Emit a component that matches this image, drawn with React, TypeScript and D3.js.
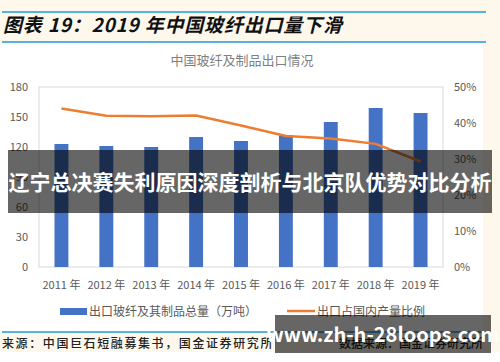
import React, { useEffect, useRef } from "react";
import * as d3 from "d3";

const years = ["2011年", "2012年", "2013年", "2014年", "2015年", "2016年", "2017年", "2018年", "2019年"];
const exportVolume = [123, 121, 120, 130, 126, 132, 145, 159, 154];
const exportRatio = [44.0, 42.0, 41.9, 42.1, 39.3, 36.4, 35.7, 34.2, 29.3];
const leftTicks = [0, 30, 60, 90, 120, 150, 180];
const rightTicks = [0, 10, 20, 30, 40, 50];

const FONT = "'Noto Sans CJK SC', 'Noto Sans', sans-serif";

export default function App() {
	const ref = useRef<SVGSVGElement>(null);

	useEffect(() => {
		const svg = d3.select(ref.current);
		svg.selectAll("*").remove();

		const W = 500, H = 362;
		const plot = { left: 39, right: 443, top: 87, bottom: 267 };

		// background
		svg.append("rect").attr("width", W).attr("height", H).attr("fill", "#fff");
		svg.append("rect").attr("width", W).attr("height", 43).attr("fill", "#fef8ec");
		svg.append("rect").attr("x", 483).attr("width", 17).attr("height", 352).attr("fill", "#fef8ec");
		svg.append("rect").attr("y", 331).attr("width", W).attr("height", 21).attr("fill", "#fef8ec");

		// header
		svg.append("line").attr("x1", 2).attr("x2", 486).attr("y1", 12).attr("y2", 12)
			.attr("stroke", "#1e9be0").attr("stroke-width", 1.5);
		svg.append("line").attr("x1", 2).attr("x2", 486).attr("y1", 42).attr("y2", 42)
			.attr("stroke", "#1e9be0").attr("stroke-width", 1.5);
		svg.append("text").attr("x", 3).attr("y", 32)
			.attr("font-family", FONT).attr("font-size", 19).attr("font-weight", "bold")
			.attr("font-style", "italic").attr("fill", "#111").attr("letter-spacing", 0.8)
			.text("图表 19：2019 年中国玻纤出口量下滑");

		svg.append("text").attr("x", 242).attr("y", 65).attr("text-anchor", "middle")
			.attr("font-family", FONT).attr("font-size", 13).attr("fill", "#7f7f7f")
			.text("中国玻纤及制品出口情况");

		const x = d3.scaleBand().domain(years).range([plot.left, plot.right]).paddingInner(0.69).paddingOuter(0.345);
		const y = d3.scaleLinear().domain([0, 180]).range([plot.bottom, plot.top]);
		const y2 = d3.scaleLinear().domain([0, 50]).range([plot.bottom, plot.top]);

		svg.append("rect").attr("x", plot.left).attr("y", plot.top)
			.attr("width", plot.right - plot.left).attr("height", plot.bottom - plot.top)
			.attr("fill", "none").attr("stroke", "#d9d9d9");

		// axes
		const left = svg.append("g").attr("transform", "translate(" + (plot.left - 11) + ",0)")
			.call(d3.axisLeft(y).tickValues(leftTicks).tickSize(0).tickPadding(0));
		const right = svg.append("g").attr("transform", "translate(" + (plot.right + 11) + ",0)")
			.call(d3.axisRight(y2).tickValues(rightTicks).tickSize(0).tickPadding(0).tickFormat(d => d + "%"));
		const bottom = svg.append("g").attr("transform", "translate(0," + plot.bottom + ")")
			.call(d3.axisBottom(x).tickSize(0).tickPadding(14).tickFormat(d => d.replace("年", " 年")));
		[left, right, bottom].forEach(g => {
			g.select(".domain").remove();
			g.selectAll("text").attr("font-family", FONT).attr("font-size", 11).attr("fill", "#595959");
		});

		// bars
		svg.append("g").selectAll("rect").data(exportVolume).enter().append("rect")
			.attr("x", (d, i) => x(years[i])!)
			.attr("y", d => y(d))
			.attr("width", x.bandwidth())
			.attr("height", d => plot.bottom - y(d))
			.attr("fill", "#4472c4");

		// ratio line
		const line = d3.line<number>()
			.x((d, i) => x(years[i])! + x.bandwidth() / 2)
			.y(d => y2(d));
		svg.append("path").datum(exportRatio).attr("d", line)
			.attr("fill", "none").attr("stroke", "#ed7d31").attr("stroke-width", 2.5)
			.attr("stroke-linejoin", "round");

		// legend
		svg.append("rect").attr("x", 60).attr("y", 308).attr("width", 27).attr("height", 7).attr("fill", "#4472c4");
		svg.append("text").attr("x", 89).attr("y", 315.5)
			.attr("font-family", FONT).attr("font-size", 12).attr("fill", "#595959")
			.text("出口玻纤及其制品总量（万吨）");
		svg.append("line").attr("x1", 287).attr("x2", 315).attr("y1", 311).attr("y2", 311)
			.attr("stroke", "#ed7d31").attr("stroke-width", 2.5);
		svg.append("text").attr("x", 317).attr("y", 315.5)
			.attr("font-family", FONT).attr("font-size", 12).attr("fill", "#595959")
			.text("出口占国内产量比例");

		// footer
		svg.append("line").attr("x1", 2).attr("x2", 486).attr("y1", 332).attr("y2", 332)
			.attr("stroke", "#1e9be0").attr("stroke-width", 1.5);
		svg.append("text").attr("x", 2).attr("y", 348)
			.attr("font-family", FONT).attr("font-size", 12).attr("font-weight", 500).attr("fill", "#222")
			.attr("letter-spacing", 1.6)
			.text("来源：中国巨石短融募集书，国金证券研究所");
		svg.append("text").attr("x", 483).attr("y", 348).attr("text-anchor", "end")
			.attr("font-family", FONT).attr("font-size", 12).attr("font-weight", 500).attr("fill", "#222")
			.text("数据来源：国金证券研究所");

		// overlays
		svg.append("rect").attr("x", 8).attr("y", 150).attr("width", 484).attr("height", 63)
			.attr("fill", "#000").attr("fill-opacity", 0.6);
		svg.append("text").attr("x", 250).attr("y", 190).attr("text-anchor", "middle")
			.attr("font-family", FONT).attr("font-size", 21).attr("font-weight", "bold").attr("fill", "#fff")
			.text("辽宁总决赛失利原因深度剖析与北京队优势对比分析");
		svg.append("rect").attr("x", 275).attr("y", 315).attr("width", 216).attr("height", 38)
			.attr("fill", "#000").attr("fill-opacity", 0.6);
		svg.append("text").attr("x", 383).attr("y", 342).attr("text-anchor", "middle")
			.attr("font-family", FONT).attr("font-size", 20).attr("font-weight", "bold").attr("fill", "#fff")
			.text("www.zh-h-28loops.com");
	}, []);

	return <svg ref={ref} width={500} height={362} style={{ position: "absolute", left: 0, top: 0 }} />;
}
